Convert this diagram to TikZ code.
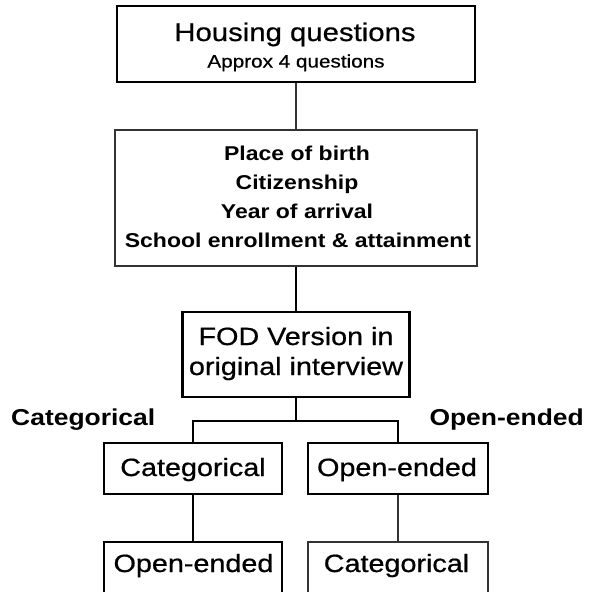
\documentclass[tikz,border=0pt]{standalone}
\usepackage{fontspec}
\setmainfont{Liberation Sans}
\newfontfamily\arl[FakeStretch=1.15,FakeBold=0.6]{Liberation Sans}
\newfontfamily\arlb[FakeStretch=1.15]{Liberation Sans Bold}
\begin{document}
\begin{tikzpicture}[x=1pt,y=-1pt,
  thickbox/.style={draw=black, line width=2.3pt, inner sep=0pt},
  thinbox/.style={draw=black!80, line width=1.3pt, inner sep=0pt},
  thickline/.style={draw=black, line width=2.3pt},
  thinline/.style={draw=black!80, line width=1.3pt},
  txt/.style={inner sep=0pt, anchor=base},
  bigreg/.style={font=\arl\fontsize{25.5}{30}\selectfont},
  smallreg/.style={font=\arl\fontsize{18}{22}\selectfont},
  boldtxt/.style={font=\arlb\fontsize{20}{24}\selectfont},
  midreg/.style={font=\arl\fontsize{25}{30}\selectfont},
  outerlbl/.style={font=\arlb\fontsize{23}{28}\selectfont}
]
\useasboundingbox (0,0) rectangle (598,592);
\clip (0,0) rectangle (598,592);
\fill[white] (0,0) rectangle (598,592);

% boxes
\node[thickbox, minimum width=358pt, minimum height=76pt] (hq) at (296,44) {};
\node[thinbox, minimum width=362pt, minimum height=136pt] (b2) at (296,198) {};
\node[thickbox, minimum width=227pt, minimum height=85pt] (fod) at (296,354.5) {};
\node[thickbox, minimum width=178pt, minimum height=51pt] (cat) at (193,468.5) {};
\node[thickbox, minimum width=180pt, minimum height=51pt] (open) at (398,468.5) {};
\node[thickbox, minimum width=178pt, minimum height=60pt] (openB) at (193,572) {};
\node[thinbox, minimum width=180pt, minimum height=60pt] (catB) at (398,572) {};

% texts
\node[txt, bigreg] (t1) at (295,41) {Housing questions};
\node[txt, smallreg] (t2) at (296,67.5) {Approx 4 questions};
\node[txt, boldtxt] (t3) at (297,160) {Place of birth};
\node[txt, boldtxt] (t4) at (297,189) {Citizenship};
\node[txt, boldtxt] (t5) at (297,218.5) {Year of arrival};
\node[txt, boldtxt] (t6) at (298,247) {School enrollment \& attainment};
\node[txt, midreg] (t7) at (296,345) {FOD Version in};
\node[txt, midreg] (t8) at (296,375) {original interview};
\node[txt, midreg] (t9) at (193,476) {Categorical};
\node[txt, midreg] (t10) at (397,476) {Open-ended};
\node[txt, midreg] (t11) at (193.5,572) {Open-ended};
\node[txt, midreg] (t12) at (396.5,572) {Categorical};
\node[txt, outerlbl, anchor=base west] (l1) at (11,425) {Categorical};
\node[txt, outerlbl, anchor=base east] (l2) at (584,425) {Open-ended};

% connectors
\coordinate (j) at (296,421);
\draw[thinline] (hq.south) -- (b2.north);
\draw[thickline] (b2.south) -- (fod.north);
\draw[thickline] (fod.south) -- (j);
\draw[thickline] (cat.north) |- (j) -| (open.north);
\draw[thickline] (cat.south) -- (openB.north);
\draw[thinline] (open.south) -- (catB.north);
\end{tikzpicture}
\end{document}
